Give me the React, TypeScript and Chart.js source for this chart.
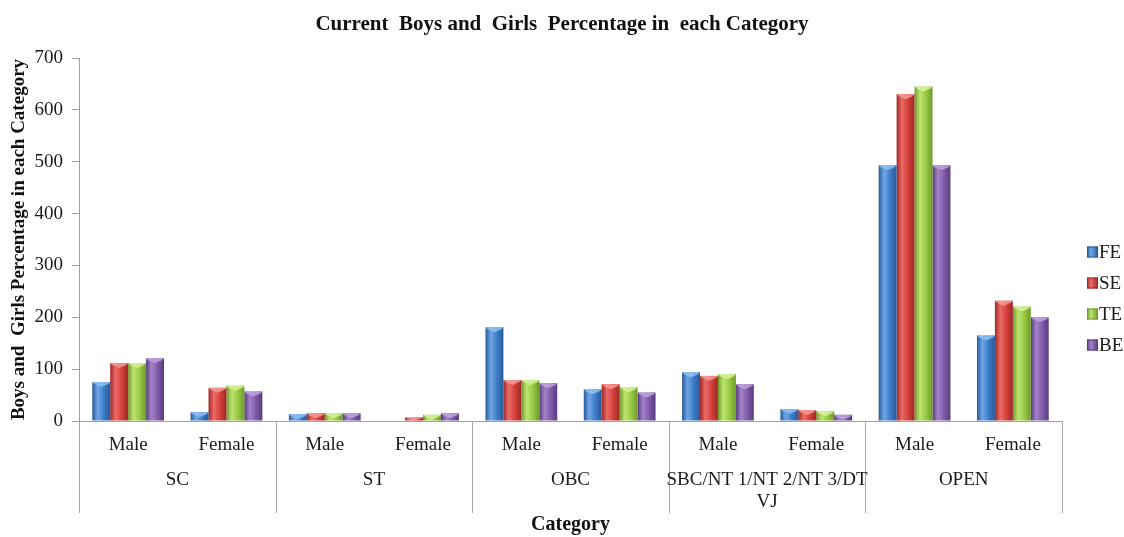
import React, { useEffect, useRef } from "react";
import { Chart, registerables } from "chart.js";

Chart.register(...registerables);

const categories = ["Male", "Female", "Male", "Female", "Male", "Female", "Male", "Female", "Male", "Female"];
const groupLabels: string[][] = [["SC"], ["ST"], ["OBC"], ["SBC/NT 1/NT 2/NT 3/DT", "VJ"], ["OPEN"]];
const seriesNames = ["FE", "SE", "TE", "BE"];
const feValues = [75, 17, 13, 1, 181, 61, 94, 23, 493, 165];
const seValues = [112, 64, 15, 7, 79, 71, 87, 21, 630, 232];
const teValues = [112, 68, 15, 12, 79, 65, 90, 19, 645, 221];
const beValues = [121, 57, 15, 15, 73, 55, 71, 12, 493, 200];
const yTicks = [0, 100, 200, 300, 400, 500, 600, 700];

const baseColors = ["#3d7cc9", "#d23f3b", "#98c843", "#7f5aa8"];
const lightColors = ["#6fa6e6", "#ec6b67", "#bde470", "#a283c8"];
const capColors = ["#8fc0f2", "#f59a97", "#d6f29a", "#bda3dc"];
const darkColors = ["#285a98", "#9e2826", "#6e9a2a", "#573b7f"];

const CAT_PCT = 0.73;
const FONT = "'Liberation Serif', 'Times New Roman', serif";

function barGradient(ctx: any) {
  const chart = ctx.chart;
  const di = ctx.datasetIndex;
  const xs = chart.scales?.x;
  if (!xs || !chart.chartArea || ctx.dataIndex == null) return baseColors[di];
  const catW = (xs.right - xs.left) / categories.length;
  const groupW = catW * CAT_PCT;
  const barW = groupW / seriesNames.length;
  const center = xs.getPixelForValue(ctx.dataIndex);
  const left = center - groupW / 2 + di * barW;
  if (!isFinite(left)) return baseColors[di];
  const g = chart.ctx.createLinearGradient(left, 0, left + barW, 0);
  g.addColorStop(0, darkColors[di]);
  g.addColorStop(0.3, lightColors[di]);
  g.addColorStop(0.65, baseColors[di]);
  g.addColorStop(1, darkColors[di]);
  return g;
}

const capPlugin = {
  id: "capPlugin",
  afterDatasetsDraw(chart: any) {
    const { ctx } = chart;
    ctx.save();
    chart.data.datasets.forEach((_: any, di: number) => {
      const meta = chart.getDatasetMeta(di);
      meta.data.forEach((el: any) => {
        const h = el.base - el.y;
        if (h < 2) return;
        const l = el.x - el.width / 2;
        const r = el.x + el.width / 2;
        const ch = Math.min(5, h);
        ctx.fillStyle = capColors[di];
        ctx.globalAlpha = 0.85;
        ctx.beginPath();
        ctx.moveTo(l, el.y);
        ctx.lineTo(r, el.y);
        ctx.lineTo(r - 2, el.y + ch * 0.4);
        ctx.lineTo(el.x, el.y + ch);
        ctx.lineTo(l + 2, el.y + ch * 0.4);
        ctx.closePath();
        ctx.fill();
      });
    });
    ctx.restore();
  },
};

const groupPlugin = {
  id: "groupPlugin",
  afterDraw(chart: any) {
    const { ctx, chartArea } = chart;
    const xs = chart.scales.x;
    const nGroups = groupLabels.length;
    const gW = (xs.right - xs.left) / nGroups;
    ctx.save();
    ctx.strokeStyle = "#a8a8a8";
    ctx.lineWidth = 1;
    for (let k = 0; k <= nGroups; k++) {
      const x = Math.round(xs.left + k * gW) + 0.5;
      ctx.beginPath();
      ctx.moveTo(x, chartArea.bottom);
      ctx.lineTo(x, 513);
      ctx.stroke();
    }
    ctx.fillStyle = "#1a1a1a";
    ctx.font = `19px ${FONT}`;
    ctx.textAlign = "center";
    ctx.textBaseline = "middle";
    groupLabels.forEach((lines, k) => {
      const cx = xs.left + (k + 0.5) * gW;
      lines.forEach((t, i) => ctx.fillText(t, cx, 480 + i * 22));
    });
    // legend
    ctx.textAlign = "left";
    seriesNames.forEach((name, i) => {
      const y = 252 + i * 31;
      const bx = 1087;
      const g = ctx.createLinearGradient(bx, 0, bx + 11, 0);
      g.addColorStop(0, darkColors[i]);
      g.addColorStop(0.35, lightColors[i]);
      g.addColorStop(1, darkColors[i]);
      ctx.fillStyle = g;
      ctx.fillRect(bx, y - 5.5, 11, 11);
      ctx.strokeStyle = darkColors[i];
      ctx.strokeRect(bx + 0.5, y - 5, 10, 10);
      ctx.fillStyle = "#1a1a1a";
      ctx.fillText(name, bx + 12, y + 1);
    });
    ctx.restore();
  },
};

export default function App() {
  const ref = useRef<HTMLCanvasElement>(null);
  useEffect(() => {
    if (!ref.current) return;
    const allSeries = [feValues, seValues, teValues, beValues];
    const chart = new Chart(ref.current, {
      type: "bar",
      data: {
        labels: categories,
        datasets: allSeries.map((vals, i) => ({
          label: seriesNames[i],
          data: vals,
          backgroundColor: barGradient,
          borderWidth: 0,
          categoryPercentage: CAT_PCT,
          barPercentage: 1,
        })),
      },
      options: {
        responsive: false,
        animation: false,
        layout: { padding: { left: 0, right: 0, top: 0, bottom: 0 } },
        plugins: {
          legend: { display: false },
          tooltip: { enabled: false },
          title: {
            display: true,
            text: "Current  Boys and  Girls  Percentage in  each Category",
            color: "#111",
            font: { family: FONT, size: 21, weight: "bold", lineHeight: 1.2 },
            padding: { top: 12, bottom: 20.8 },
          },
        },
        scales: {
          x: {
            grid: { display: false, drawTicks: false },
            border: { display: true, color: "#a0a0a0", width: 1 },
            ticks: {
              color: "#1a1a1a",
              font: { family: FONT, size: 19 },
              padding: 13,
              maxRotation: 0,
              autoSkip: false,
            },
            title: {
              display: true,
              text: "Category",
              color: "#111",
              font: { family: FONT, size: 20, weight: "bold", lineHeight: 1.2 },
              padding: { top: 0, bottom: 0 },
            },
            afterFit: (s: any) => {
              s.height = 116;
            },
          },
          y: {
            min: 0,
            max: 700,
            afterBuildTicks: (s: any) => {
              s.ticks = yTicks.map((v) => ({ value: v }));
            },
            grid: { display: true, drawOnChartArea: false, drawTicks: true, tickLength: 7, color: "#a0a0a0" },
            border: { display: true, color: "#a0a0a0", width: 1 },
            ticks: {
              color: "#1a1a1a",
              font: { family: FONT, size: 19 },
              padding: 9,
            },
            title: {
              display: true,
              text: "Boys and  Girls Percentage in each Category",
              color: "#111",
              font: { family: FONT, size: 19, weight: "bold", lineHeight: 1.2 },
              padding: { top: 8, bottom: 0 },
            },
            afterFit: (s: any) => {
              s.width = 79;
            },
          },
          legendSpace: {
            type: "linear",
            position: "right",
            display: true,
            grid: { display: false, drawTicks: false },
            border: { display: false },
            ticks: { display: false },
            afterFit: (s: any) => {
              s.width = 62;
            },
          },
        },
      },
      plugins: [capPlugin, groupPlugin],
    });
    return () => chart.destroy();
  }, []);
  return (
    <div style={{ position: "absolute", left: 0, top: 0, width: 1124, height: 537, background: "#fff" }}>
      <canvas ref={ref} width={1124} height={537} />
    </div>
  );
}
